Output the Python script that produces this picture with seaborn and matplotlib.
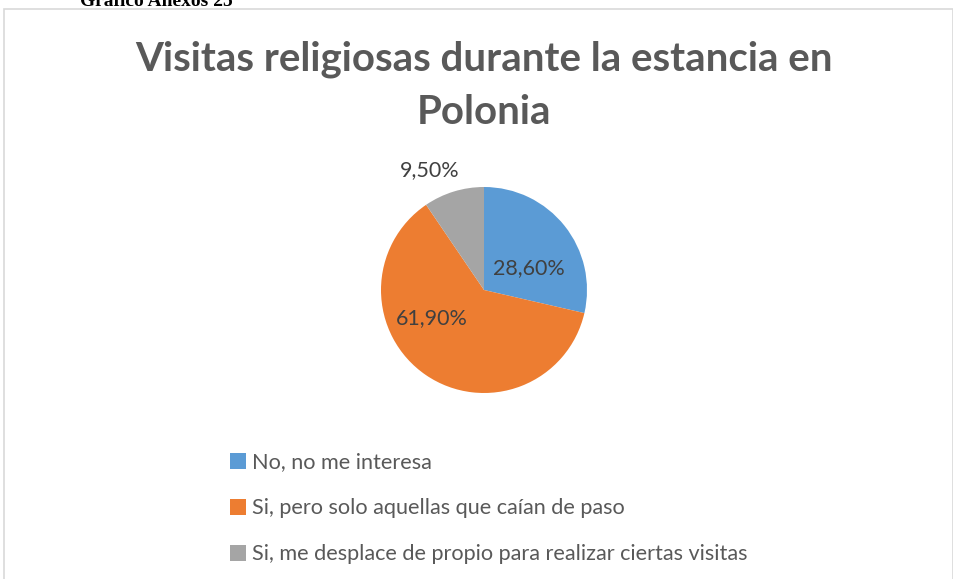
import matplotlib.pyplot as plt
import matplotlib.patches as mpatches
import seaborn as sns

title = 'Visitas religiosas durante la estancia en\nPolonia'
categories = ['No, no me interesa',
              'Si, pero solo aquellas que caían de paso',
              'Si, me desplace de propio para realizar ciertas visitas']
values = [28.6, 61.9, 9.5]
pct_labels = ['28,60%', '61,90%', '9,50%']
colors = ['#5B9BD5', '#ED7D31', '#A5A5A5']

sns.set_theme(style='white')
plt.rcParams['font.family'] = ['Lato', 'DejaVu Sans']

W, H = 954, 579
fig = plt.figure(figsize=(W / 100, H / 100), dpi=100)

# chart frame (cut off at right and bottom)
fig.patches.append(mpatches.Rectangle((4 / W, -0.01), (W - 5) / W, (H - 9) / H + 0.01,
                                      transform=fig.transFigure, fill=False,
                                      edgecolor='#D9D9D9', linewidth=1.2))
fig.text(80 / W, 1 - 2 / H, 'Gráfico Anexos 25', family='Liberation Serif',
         weight='bold', fontsize=14, va='center', ha='left', color='black')

fig.text(484 / W, 1 - 86 / H, title, ha='center', va='center', fontsize=29,
         weight='bold', color='#595959', linespacing=1.52)

r = 103
ax = fig.add_axes([(484 - r) / W, (H - 290 - r) / H, 2 * r / W, 2 * r / H])
wedges, _ = ax.pie(values, colors=colors, startangle=90, counterclock=False,
                   wedgeprops=dict(linewidth=0))
ax.set_xlim(-1, 1)
ax.set_ylim(-1, 1)
ax.set_aspect('equal')
ax.axis('off')

label_pos = [(0.44, 0.21), (-0.51, -0.27), (-0.53, 1.16)]
for (x, y), lab in zip(label_pos, pct_labels):
    ax.text(x, y, lab, ha='center', va='center', fontsize=15.5, color='#404040',
            clip_on=False)

fig.legend(wedges, categories, loc='upper left', bbox_to_anchor=(211 / W, 1 - 433 / H),
           frameon=False, fontsize=15.6, handlelength=0.7, handleheight=0.7,
           handletextpad=0.3, labelspacing=1.2, labelcolor='#595959')

fig.savefig('out.png', dpi=100)
